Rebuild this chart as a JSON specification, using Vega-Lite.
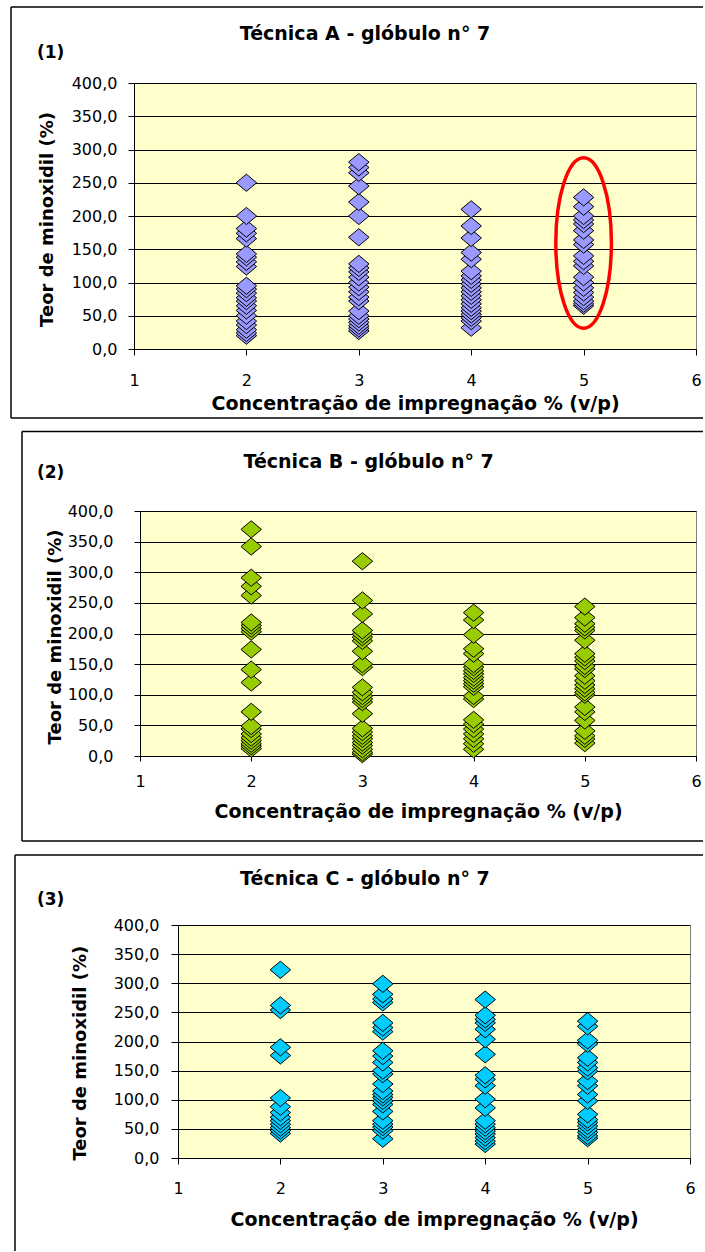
{
  "$schema": "https://vega.github.io/schema/vega-lite/v6.json",
  "background": "white",
  "padding": {"left": 8, "top": 5, "right": 0, "bottom": 0},
  "spacing": 10,
  "config": {
    "view": {"fill": "#FFFFCC", "stroke": "#808080", "strokeWidth": 1},
    "axis": {
      "domainColor": "#000", "domainWidth": 1, "tickColor": "#000", "tickWidth": 1,
      "labelColor": "#000", "titleColor": "#000", "labelFont": "DejaVu Sans", "labelFontSize": 16,
      "titleFont": "DejaVu Sans", "titleFontWeight": "bold", "titleFontSize": 18,
      "gridColor": "#000", "gridWidth": 1, "gridOpacity": 1, "labelOverlap": false
    },
    "axisX": {"titleFontSize": 19}
  },
  "datasets": {
    "A": [
      {"conc": 2, "teor": 250}, {"conc": 2, "teor": 200}, {"conc": 2, "teor": 181}, {"conc": 2, "teor": 174}, {"conc": 2, "teor": 166}, {"conc": 2, "teor": 143}, {"conc": 2, "teor": 138}, {"conc": 2, "teor": 131}, {"conc": 2, "teor": 124}, {"conc": 2, "teor": 95}, {"conc": 2, "teor": 90}, {"conc": 2, "teor": 84}, {"conc": 2, "teor": 77}, {"conc": 2, "teor": 72}, {"conc": 2, "teor": 65}, {"conc": 2, "teor": 58}, {"conc": 2, "teor": 50}, {"conc": 2, "teor": 42}, {"conc": 2, "teor": 36}, {"conc": 2, "teor": 29}, {"conc": 2, "teor": 24}, {"conc": 2, "teor": 20},
      {"conc": 3, "teor": 281}, {"conc": 3, "teor": 273}, {"conc": 3, "teor": 265}, {"conc": 3, "teor": 245}, {"conc": 3, "teor": 221}, {"conc": 3, "teor": 200}, {"conc": 3, "teor": 168}, {"conc": 3, "teor": 128}, {"conc": 3, "teor": 122}, {"conc": 3, "teor": 116}, {"conc": 3, "teor": 108}, {"conc": 3, "teor": 100}, {"conc": 3, "teor": 93}, {"conc": 3, "teor": 86}, {"conc": 3, "teor": 78}, {"conc": 3, "teor": 72}, {"conc": 3, "teor": 57}, {"conc": 3, "teor": 50}, {"conc": 3, "teor": 45}, {"conc": 3, "teor": 40}, {"conc": 3, "teor": 35}, {"conc": 3, "teor": 31}, {"conc": 3, "teor": 27},
      {"conc": 4, "teor": 210}, {"conc": 4, "teor": 185}, {"conc": 4, "teor": 167}, {"conc": 4, "teor": 145}, {"conc": 4, "teor": 135}, {"conc": 4, "teor": 117}, {"conc": 4, "teor": 110}, {"conc": 4, "teor": 104}, {"conc": 4, "teor": 98}, {"conc": 4, "teor": 92}, {"conc": 4, "teor": 86}, {"conc": 4, "teor": 80}, {"conc": 4, "teor": 74}, {"conc": 4, "teor": 68}, {"conc": 4, "teor": 62}, {"conc": 4, "teor": 57}, {"conc": 4, "teor": 52}, {"conc": 4, "teor": 47}, {"conc": 4, "teor": 42}, {"conc": 4, "teor": 32},
      {"conc": 5, "teor": 228}, {"conc": 5, "teor": 214}, {"conc": 5, "teor": 200}, {"conc": 5, "teor": 194}, {"conc": 5, "teor": 188}, {"conc": 5, "teor": 178}, {"conc": 5, "teor": 164}, {"conc": 5, "teor": 157}, {"conc": 5, "teor": 140}, {"conc": 5, "teor": 132}, {"conc": 5, "teor": 125}, {"conc": 5, "teor": 108}, {"conc": 5, "teor": 100}, {"conc": 5, "teor": 92}, {"conc": 5, "teor": 85}, {"conc": 5, "teor": 78}, {"conc": 5, "teor": 72}, {"conc": 5, "teor": 68}, {"conc": 5, "teor": 65}
    ],
    "B": [
      {"conc": 2, "teor": 370}, {"conc": 2, "teor": 342}, {"conc": 2, "teor": 291}, {"conc": 2, "teor": 277}, {"conc": 2, "teor": 262}, {"conc": 2, "teor": 218}, {"conc": 2, "teor": 213}, {"conc": 2, "teor": 208}, {"conc": 2, "teor": 203}, {"conc": 2, "teor": 174}, {"conc": 2, "teor": 141}, {"conc": 2, "teor": 120}, {"conc": 2, "teor": 72}, {"conc": 2, "teor": 49}, {"conc": 2, "teor": 44}, {"conc": 2, "teor": 36}, {"conc": 2, "teor": 30}, {"conc": 2, "teor": 25}, {"conc": 2, "teor": 20}, {"conc": 2, "teor": 16}, {"conc": 2, "teor": 12},
      {"conc": 3, "teor": 318}, {"conc": 3, "teor": 254}, {"conc": 3, "teor": 232}, {"conc": 3, "teor": 205}, {"conc": 3, "teor": 199}, {"conc": 3, "teor": 194}, {"conc": 3, "teor": 188}, {"conc": 3, "teor": 171}, {"conc": 3, "teor": 150}, {"conc": 3, "teor": 145}, {"conc": 3, "teor": 112}, {"conc": 3, "teor": 104}, {"conc": 3, "teor": 98}, {"conc": 3, "teor": 93}, {"conc": 3, "teor": 88}, {"conc": 3, "teor": 69}, {"conc": 3, "teor": 45}, {"conc": 3, "teor": 39}, {"conc": 3, "teor": 33}, {"conc": 3, "teor": 28}, {"conc": 3, "teor": 22}, {"conc": 3, "teor": 17}, {"conc": 3, "teor": 11}, {"conc": 3, "teor": 6}, {"conc": 3, "teor": 3},
      {"conc": 4, "teor": 234}, {"conc": 4, "teor": 222}, {"conc": 4, "teor": 198}, {"conc": 4, "teor": 175}, {"conc": 4, "teor": 167}, {"conc": 4, "teor": 150}, {"conc": 4, "teor": 145}, {"conc": 4, "teor": 139}, {"conc": 4, "teor": 134}, {"conc": 4, "teor": 128}, {"conc": 4, "teor": 123}, {"conc": 4, "teor": 118}, {"conc": 4, "teor": 113}, {"conc": 4, "teor": 98}, {"conc": 4, "teor": 93}, {"conc": 4, "teor": 59}, {"conc": 4, "teor": 52}, {"conc": 4, "teor": 44}, {"conc": 4, "teor": 36}, {"conc": 4, "teor": 28}, {"conc": 4, "teor": 20}, {"conc": 4, "teor": 11},
      {"conc": 5, "teor": 244}, {"conc": 5, "teor": 226}, {"conc": 5, "teor": 216}, {"conc": 5, "teor": 210}, {"conc": 5, "teor": 205}, {"conc": 5, "teor": 189}, {"conc": 5, "teor": 167}, {"conc": 5, "teor": 161}, {"conc": 5, "teor": 155}, {"conc": 5, "teor": 147}, {"conc": 5, "teor": 142}, {"conc": 5, "teor": 131}, {"conc": 5, "teor": 123}, {"conc": 5, "teor": 116}, {"conc": 5, "teor": 110}, {"conc": 5, "teor": 104}, {"conc": 5, "teor": 100}, {"conc": 5, "teor": 80}, {"conc": 5, "teor": 72}, {"conc": 5, "teor": 58}, {"conc": 5, "teor": 41}, {"conc": 5, "teor": 33}, {"conc": 5, "teor": 28}, {"conc": 5, "teor": 21}
    ],
    "C": [
      {"conc": 2, "teor": 323}, {"conc": 2, "teor": 262}, {"conc": 2, "teor": 254}, {"conc": 2, "teor": 190}, {"conc": 2, "teor": 176}, {"conc": 2, "teor": 103}, {"conc": 2, "teor": 88}, {"conc": 2, "teor": 78}, {"conc": 2, "teor": 70}, {"conc": 2, "teor": 64}, {"conc": 2, "teor": 58}, {"conc": 2, "teor": 52}, {"conc": 2, "teor": 47}, {"conc": 2, "teor": 42},
      {"conc": 3, "teor": 299}, {"conc": 3, "teor": 281}, {"conc": 3, "teor": 273}, {"conc": 3, "teor": 267}, {"conc": 3, "teor": 232}, {"conc": 3, "teor": 224}, {"conc": 3, "teor": 217}, {"conc": 3, "teor": 184}, {"conc": 3, "teor": 175}, {"conc": 3, "teor": 164}, {"conc": 3, "teor": 150}, {"conc": 3, "teor": 144}, {"conc": 3, "teor": 127}, {"conc": 3, "teor": 115}, {"conc": 3, "teor": 109}, {"conc": 3, "teor": 104}, {"conc": 3, "teor": 98}, {"conc": 3, "teor": 92}, {"conc": 3, "teor": 80}, {"conc": 3, "teor": 64}, {"conc": 3, "teor": 58}, {"conc": 3, "teor": 53}, {"conc": 3, "teor": 47}, {"conc": 3, "teor": 33},
      {"conc": 4, "teor": 272}, {"conc": 4, "teor": 245}, {"conc": 4, "teor": 238}, {"conc": 4, "teor": 232}, {"conc": 4, "teor": 221}, {"conc": 4, "teor": 204}, {"conc": 4, "teor": 178}, {"conc": 4, "teor": 142}, {"conc": 4, "teor": 135}, {"conc": 4, "teor": 124}, {"conc": 4, "teor": 101}, {"conc": 4, "teor": 86}, {"conc": 4, "teor": 64}, {"conc": 4, "teor": 58}, {"conc": 4, "teor": 52}, {"conc": 4, "teor": 46}, {"conc": 4, "teor": 41}, {"conc": 4, "teor": 35}, {"conc": 4, "teor": 29}, {"conc": 4, "teor": 24},
      {"conc": 5, "teor": 235}, {"conc": 5, "teor": 226}, {"conc": 5, "teor": 202}, {"conc": 5, "teor": 196}, {"conc": 5, "teor": 172}, {"conc": 5, "teor": 164}, {"conc": 5, "teor": 155}, {"conc": 5, "teor": 149}, {"conc": 5, "teor": 132}, {"conc": 5, "teor": 124}, {"conc": 5, "teor": 109}, {"conc": 5, "teor": 98}, {"conc": 5, "teor": 75}, {"conc": 5, "teor": 66}, {"conc": 5, "teor": 61}, {"conc": 5, "teor": 55}, {"conc": 5, "teor": 49}, {"conc": 5, "teor": 44}, {"conc": 5, "teor": 38}, {"conc": 5, "teor": 34}
    ]
  },
  "vconcat": [
    {
      "spacing": 0,
      "hconcat": [
        {"width": 1, "height": 1, "view": {"fill": null, "stroke": null}, "data": {"values": [{}]}, "mark": {"type": "rect", "opacity": 0}, "encoding": {}},
        {
          "width": 562, "height": 266,
          "data": {"name": "A"},
          "resolve": {"axis": {"x": "independent", "y": "independent"}},
          "layer": [
            {
              "mark": {"type": "point", "shape": "M-1,0L0,-0.84L1,0L0,0.84Z", "size": 420, "filled": true, "fill": "#9999FF", "stroke": "#000", "strokeWidth": 1, "opacity": 1},
              "encoding": {
                "x": {"field": "conc", "type": "quantitative", "scale": {"domain": [1, 6], "nice": false, "zero": false},
                  "axis": {"orient": "bottom", "values": [1, 2, 3, 4, 5, 6], "tickCount": 20, "format": "d", "title": "Concentração de impregnação % (v/p)", "grid": false, "tickSize": 6, "labelPadding": 17, "labelFlush": false, "titleY": 60, "titleBaseline": "alphabetic"}},
                "y": {"field": "teor", "type": "quantitative", "scale": {"domain": [0, 400], "nice": false},
                  "axis": {"orient": "left", "values": [0, 50, 100, 150, 200, 250, 300, 350, 400], "tickCount": 40, "labelExpr": "replace(format(datum.value, '.1f'), '.', ',')", "title": "Teor de minoxidil (%)", "grid": true, "tickSize": 6, "labelPadding": 11, "titleX": -87, "titleY": 136, "titleAlign": "center", "titleBaseline": "middle"}},
                "order": {"field": "teor", "sort": "ascending"}
              }
            },
            {
              "data": {"values": [{}]},
              "mark": {"type": "point", "shape": "M0.326,0A0.326,1,0,1,1,-0.326,0A0.326,1,0,1,1,0.326,0Z", "size": 29104, "filled": false, "stroke": "#FF0000", "strokeWidth": 3.5, "opacity": 1},
              "encoding": {"x": {"datum": 5, "axis": null}, "y": {"datum": 159.4, "axis": null}}
            },
            {
              "data": {"values": [{}]},
              "mark": {"type": "rule", "stroke": "#000", "strokeWidth": 1.5},
              "encoding": {"x": {"datum": -0.0943, "axis": null}, "x2": {"datum": 6.0623}, "y": {"datum": 514.29, "axis": null}}
            },
            {
              "data": {"values": [{}]},
              "mark": {"type": "rule", "stroke": "#000", "strokeWidth": 1.5},
              "encoding": {"x": {"datum": -0.0943, "axis": null}, "y": {"datum": 514.29, "axis": null}, "y2": {"datum": -103.76}}
            },
            {
              "data": {"values": [{}]},
              "mark": {"type": "rule", "stroke": "#000", "strokeWidth": 1.5},
              "encoding": {"x": {"datum": -0.0943, "axis": null}, "x2": {"datum": 6.0623}, "y": {"datum": -103.76, "axis": null}}
            },
            {
              "data": {"values": [{}]},
              "mark": {"type": "text", "text": "Técnica A - glóbulo n° 7", "font": "DejaVu Sans", "fontWeight": "bold", "fontSize": 19, "align": "center", "baseline": "alphabetic", "color": "#000"},
              "encoding": {"x": {"datum": 3.055, "axis": null}, "y": {"datum": 464.7, "axis": null}}
            },
            {
              "data": {"values": [{}]},
              "mark": {"type": "text", "text": "(1)", "font": "DejaVu Sans", "fontWeight": "bold", "fontSize": 17, "align": "left", "baseline": "alphabetic", "color": "#000"},
              "encoding": {"x": {"datum": 0.137, "axis": null}, "y": {"datum": 437.6, "axis": null}}
            }
          ]
        }
      ]
    },
    {
      "spacing": 0,
      "hconcat": [
        {"width": 12, "height": 1, "view": {"fill": null, "stroke": null}, "data": {"values": [{}]}, "mark": {"type": "rect", "opacity": 0}, "encoding": {}},
        {
          "width": 556, "height": 245,
          "data": {"name": "B"},
          "resolve": {"axis": {"x": "independent", "y": "independent"}},
          "layer": [
            {
              "mark": {"type": "point", "shape": "M-1,0L0,-0.84L1,0L0,0.84Z", "size": 420, "filled": true, "fill": "#99CC00", "stroke": "#000", "strokeWidth": 1, "opacity": 1},
              "encoding": {
                "x": {"field": "conc", "type": "quantitative", "scale": {"domain": [1, 6], "nice": false, "zero": false},
                  "axis": {"orient": "bottom", "values": [1, 2, 3, 4, 5, 6], "tickCount": 20, "format": "d", "title": "Concentração de impregnação % (v/p)", "grid": false, "tickSize": 5, "labelPadding": 12, "labelFlush": false, "titleY": 61, "titleBaseline": "alphabetic"}},
                "y": {"field": "teor", "type": "quantitative", "scale": {"domain": [0, 400], "nice": false},
                  "axis": {"orient": "left", "values": [0, 50, 100, 150, 200, 250, 300, 350, 400], "tickCount": 40, "labelExpr": "replace(format(datum.value, '.1f'), '.', ',')", "title": "Teor de minoxidil (%)", "grid": true, "tickSize": 6, "labelPadding": 21, "titleX": -84.4, "titleY": 125.5, "titleAlign": "center", "titleBaseline": "middle"}},
                "order": {"field": "teor", "sort": "ascending"}
              }
            },
            {
              "data": {"values": [{}]},
              "mark": {"type": "rule", "stroke": "#000", "strokeWidth": 1.5},
              "encoding": {"x": {"datum": -0.0612, "axis": null}, "x2": {"datum": 6.0629}, "y": {"datum": 529.8, "axis": null}}
            },
            {
              "data": {"values": [{}]},
              "mark": {"type": "rule", "stroke": "#000", "strokeWidth": 1.5},
              "encoding": {"x": {"datum": -0.0612, "axis": null}, "y": {"datum": 529.8, "axis": null}, "y2": {"datum": -138.78}}
            },
            {
              "data": {"values": [{}]},
              "mark": {"type": "rule", "stroke": "#000", "strokeWidth": 1.5},
              "encoding": {"x": {"datum": -0.0612, "axis": null}, "x2": {"datum": 6.0629}, "y": {"datum": -138.78, "axis": null}}
            },
            {
              "data": {"values": [{}]},
              "mark": {"type": "text", "text": "Técnica B - glóbulo n° 7", "font": "DejaVu Sans", "fontWeight": "bold", "fontSize": 19, "align": "center", "baseline": "alphabetic", "color": "#000"},
              "encoding": {"x": {"datum": 3.056, "axis": null}, "y": {"datum": 469.4, "axis": null}}
            },
            {
              "data": {"values": [{}]},
              "mark": {"type": "text", "text": "(2)", "font": "DejaVu Sans", "fontWeight": "bold", "fontSize": 17, "align": "left", "baseline": "alphabetic", "color": "#000"},
              "encoding": {"x": {"datum": 0.0737, "axis": null}, "y": {"datum": 453.4, "axis": null}}
            }
          ]
        }
      ]
    },
    {
      "spacing": 0,
      "hconcat": [
        {"width": 5, "height": 1, "view": {"fill": null, "stroke": null}, "data": {"values": [{}]}, "mark": {"type": "rect", "opacity": 0}, "encoding": {}},
        {
          "width": 512, "height": 233,
          "data": {"name": "C"},
          "resolve": {"axis": {"x": "independent", "y": "independent"}},
          "layer": [
            {
              "mark": {"type": "point", "shape": "M-1,0L0,-0.84L1,0L0,0.84Z", "size": 420, "filled": true, "fill": "#00CCFF", "stroke": "#000", "strokeWidth": 1, "opacity": 1},
              "encoding": {
                "x": {"field": "conc", "type": "quantitative", "scale": {"domain": [1, 6], "nice": false, "zero": false},
                  "axis": {"orient": "bottom", "values": [1, 2, 3, 4, 5, 6], "tickCount": 20, "format": "d", "title": "Concentração de impregnação % (v/p)", "grid": false, "tickSize": 6, "labelPadding": 16, "labelFlush": false, "titleY": 67, "titleBaseline": "alphabetic"}},
                "y": {"field": "teor", "type": "quantitative", "scale": {"domain": [0, 400], "nice": false},
                  "axis": {"orient": "left", "values": [0, 50, 100, 150, 200, 250, 300, 350, 400], "tickCount": 40, "labelExpr": "replace(format(datum.value, '.1f'), '.', ',')", "title": "Teor de minoxidil (%)", "grid": true, "tickSize": 7, "labelPadding": 12, "titleX": -97.4, "titleY": 127.7, "titleAlign": "center", "titleBaseline": "middle"}},
                "order": {"field": "teor", "sort": "ascending"}
              }
            },
            {
              "data": {"values": [{}]},
              "mark": {"type": "rule", "stroke": "#000", "strokeWidth": 1.5},
              "encoding": {"x": {"datum": -0.5918, "axis": null}, "x2": {"datum": 6.127}, "y": {"datum": 520.2, "axis": null}}
            },
            {
              "data": {"values": [{}]},
              "mark": {"type": "rule", "stroke": "#000", "strokeWidth": 1.5},
              "encoding": {"x": {"datum": -0.5918, "axis": null}, "y": {"datum": 520.2, "axis": null}, "y2": {"datum": -159.66}}
            },
            {
              "data": {"values": [{}]},
              "mark": {"type": "text", "text": "Técnica C - glóbulo n° 7", "font": "DejaVu Sans", "fontWeight": "bold", "fontSize": 19, "align": "center", "baseline": "alphabetic", "color": "#000"},
              "encoding": {"x": {"datum": 2.826, "axis": null}, "y": {"datum": 468.7, "axis": null}}
            },
            {
              "data": {"values": [{}]},
              "mark": {"type": "text", "text": "(3)", "font": "DejaVu Sans", "fontWeight": "bold", "fontSize": 17, "align": "left", "baseline": "alphabetic", "color": "#000"},
              "encoding": {"x": {"datum": -0.377, "axis": null}, "y": {"datum": 433.8, "axis": null}}
            }
          ]
        }
      ]
    }
  ]
}
